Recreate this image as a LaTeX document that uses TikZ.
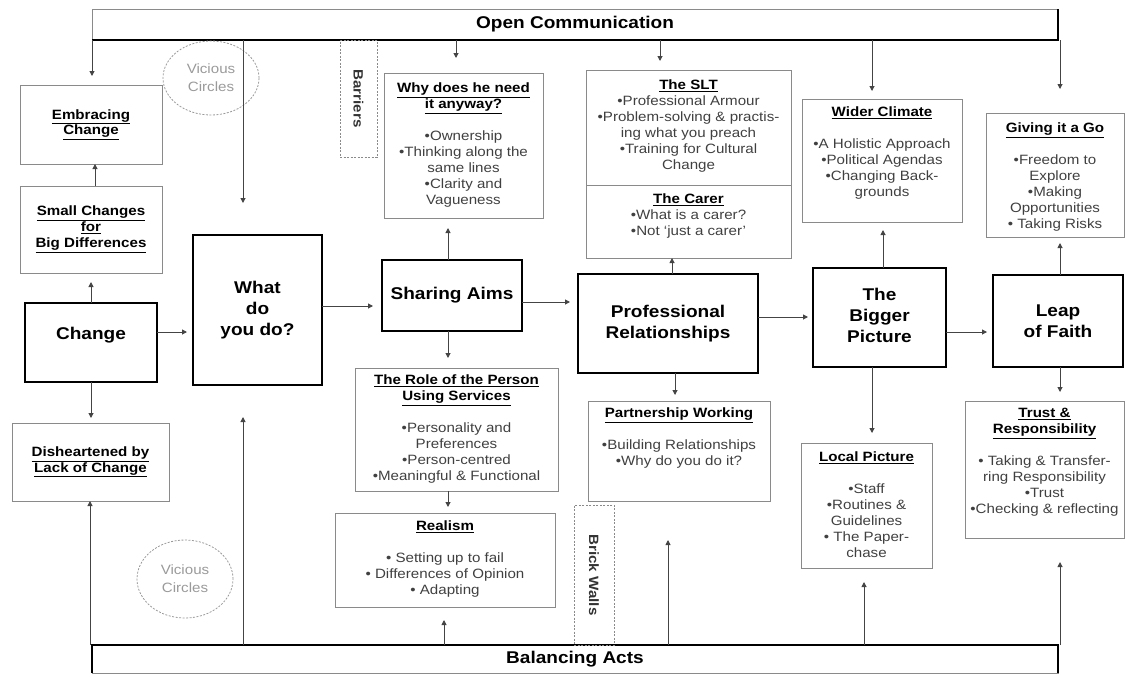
\documentclass[tikz,border=0pt]{standalone}
\usepackage{fontspec}
\setmainfont{Liberation Sans}[FakeStretch=1.12]
\usetikzlibrary{arrows.meta,calc,shapes.geometric}
\definecolor{linegray}{HTML}{444444}
\definecolor{boxgray}{HTML}{8A8A8A}
\definecolor{txtgray}{HTML}{404040}
\definecolor{vcgray}{HTML}{9A9A9A}
\newcommand\hdr[1]{{\color{black}\bfseries\underline{#1}}}
% box from top-left (x1,y1) to bottom-right (x2,y2)
\newcommand\bx[7]{\node[#1, minimum width={#5-#3}, minimum height={#6-#4}, anchor=north west] (#2) at (#3,#4) {#7};}
\tikzset{
  mainbox/.style={draw=black, line width=2pt, inner sep=0pt, outer sep=0pt,
    font=\fontsize{17}{21}\selectfont\bfseries, align=center},
  subbox/.style={draw=boxgray, line width=1pt, inner sep=0pt, outer sep=0pt},
  ctxt/.style={font=\fontsize{13.5}{15.5}\selectfont, align=center},
  barbox/.style={draw=boxgray, line width=0.8pt, inner sep=0pt, outer sep=0pt,
    font=\fontsize{17}{21}\selectfont\bfseries, align=center},
  dashbox/.style={draw=boxgray, line width=0.8pt, dash pattern=on 2pt off 1.5pt, inner sep=0pt, outer sep=0pt},
  subtxt/.style={font=\fontsize{13.5}{16}\selectfont, text=txtgray, align=center, inner sep=0pt, anchor=north},
  rottxt/.style={font=\fontsize{13.5}{16}\selectfont\bfseries, text=black!80, rotate=-90, inner sep=0pt},
  vcirc/.style={ellipse, draw=vcgray, line width=0.8pt, dash pattern=on 2pt off 1.5pt,
    text=vcgray, font=\fontsize{13.5}{18}\selectfont, align=center, inner sep=0pt},
  arr/.style={draw=linegray, line width=1pt, -{Triangle[length=5pt,width=5pt]}},
}
\begin{document}
\begin{tikzpicture}[x=1pt,y=-1pt]
\useasboundingbox (0,0) rectangle (1126,675);

% ---------- bars ----------
\bx{barbox}{oc}{92}{9}{1058}{40}{Open Communication}
\draw[line width=2.5pt, black] (oc.south west) -- (oc.south east) -- (oc.north east);
\bx{barbox}{ba}{92}{645}{1058}{673}{Balancing Acts}
\draw[line width=2.5pt, black] (ba.south west) -- (ba.north west) -- (ba.north east) -- (ba.south east);

% ---------- left column ----------
\bx{subbox,ctxt}{emb}{20}{85}{162}{164}{\hdr{Embracing}\\\hdr{Change}}
\bx{subbox,ctxt,font=\fontsize{13.5}{16}\selectfont}{small}{20}{186}{162}{273}{\hdr{Small Changes}\\\hdr{for}\\\hdr{Big Differences}}
\bx{mainbox}{change}{25}{303}{157}{382}{\raisebox{19pt}{Change}}
\bx{subbox,ctxt}{dish}{12}{423}{169}{501}{\hdr{Disheartened by}\\\hdr{Lack of Change}}

\node[vcirc, minimum width=96, minimum height=74] (vc1) at (211,78) {Vicious\\Circles};
\node[vcirc, minimum width=96, minimum height=78] (vc2) at (185,579) {Vicious\\Circles};

\bx{dashbox}{barr}{340}{40}{377}{157}{}
\node[rottxt] (barrT) at (barr.center) {Barriers};

\bx{mainbox}{what}{193}{235}{322}{385}{What\\do\\you do?}

% ---------- sharing aims column ----------
\bx{mainbox}{share}{382}{260}{522}{331}{\raisebox{-5pt}{Sharing Aims}}
\bx{subbox}{why}{384}{73}{543}{218}{}
\node[subtxt] (whyT) at ($(why.north)+(0,10)$) {\hdr{Why does he need}\\\hdr{it anyway?}\\[16pt]•Ownership\\•Thinking along the\\same lines\\•Clarity and\\Vagueness};
\bx{subbox}{role}{355}{368}{558}{491}{}
\node[subtxt] (roleT) at ($(role.north)+(0,7)$) {\hdr{The Role of the Person}\\\hdr{Using Services}\\[16pt]•Personality and\\Preferences\\•Person-centred\\•Meaningful \& Functional};
\bx{subbox}{real}{335}{513}{555}{607}{}
\node[subtxt] (realT) at ($(real.north)+(0,8)$) {\hdr{Realism}\\[16pt]• Setting up to fail\\• Differences of Opinion\\• Adapting};

% ---------- professional relationships column ----------
\bx{mainbox}{prof}{578}{274}{758}{373}{Professional\\Relationships}
\bx{subbox}{slt}{586}{70}{791}{258}{}
\coordinate (sltdiv) at (0,185);
\draw[draw=boxgray, line width=1pt] (slt.west |- sltdiv) -- (slt.east |- sltdiv);
\node[subtxt] (sltT) at ($(slt.north)+(0,10)$) {\hdr{The SLT}\\•Professional Armour\\•Problem-solving \& practis-\\ing what you preach\\•Training for Cultural\\Change};
\node[subtxt] (carerT) at ($(slt.north |- sltdiv)+(0,9)$) {\hdr{The Carer}\\•What is a carer?\\•Not `just a carer'};
\bx{subbox}{part}{588}{401}{770}{501}{}
\node[subtxt] (partT) at ($(part.north)+(0,7)$) {\hdr{Partnership Working}\\[16pt]•Building Relationships\\•Why do you do it?};
\bx{dashbox}{brick}{574}{505}{614}{645}{}
\node[rottxt] (brickT) at (brick.center) {Brick Walls};

% ---------- bigger picture column ----------
\bx{mainbox}{big}{813}{268}{946}{367}{\raisebox{-8pt}{\begin{tabular}{@{}c@{}}The\\Bigger\\Picture\end{tabular}}}
\bx{subbox}{wider}{802}{99}{962}{222}{}
\node[subtxt] (widerT) at ($(wider.north)+(0,8)$) {\hdr{Wider Climate}\\[16pt]•A Holistic Approach\\•Political Agendas\\•Changing Back-\\grounds};
\bx{subbox}{local}{801}{443}{932}{568}{}
\node[subtxt] (localT) at ($(local.north)+(0,9)$) {\hdr{Local Picture}\\[16pt]•Staff\\•Routines \&\\Guidelines\\• The Paper-\\chase};

% ---------- leap of faith column ----------
\bx{mainbox}{leap}{993}{275}{1123}{367}{Leap\\of Faith}
\bx{subbox}{give}{986}{113}{1124}{237}{}
\node[subtxt] (giveT) at ($(give.north)+(0,10)$) {\hdr{Giving it a Go}\\[16pt]•Freedom to\\Explore\\•Making\\Opportunities\\• Taking Risks};
\bx{subbox}{trust}{965}{401}{1124}{538}{}
\node[subtxt] (trustT) at ($(trust.north)+(0,7)$) {\hdr{Trust \&}\\\hdr{Responsibility}\\[16pt]• Taking \& Transfer-\\ring Responsibility\\•Trust\\•Checking \& reflecting};

% ---------- connector guide coordinates ----------
\coordinate (xEmb) at (92,0);
\coordinate (xSm) at (95,0);
\coordinate (xCh) at (91,0);
\coordinate (xDi) at (90,0);
\coordinate (xVC) at (243,0);
\coordinate (xWhy) at (456,0);
\coordinate (xSA) at (448,0);
\coordinate (xReal) at (444,0);
\coordinate (xSLT) at (660,0);
\coordinate (xPRu) at (672,0);
\coordinate (xPRd) at (675,0);
\coordinate (xBW) at (668,0);
\coordinate (xWC) at (872,0);
\coordinate (xBPu) at (883,0);
\coordinate (xBPd) at (872,0);
\coordinate (xLP) at (864,0);
\coordinate (xLF) at (1060,0);
\coordinate (yCW) at (0,332);
\coordinate (yWS) at (0,306);
\coordinate (ySP) at (0,302);
\coordinate (yPB) at (0,317);
\coordinate (yBL) at (0,332);
\coordinate (vcEnd) at (243,203);
\coordinate (wdEnd) at (243,417);
\coordinate (bwEnd) at (668,540);

% ---------- connectors from Open Communication ----------
\draw[arr, shorten >=9pt] (oc.south -| xEmb) -- (emb.north -| xEmb);
\draw[arr] (oc.south -| xVC) -- (vcEnd);
\draw[arr, shorten >=15pt] (oc.south -| xWhy) -- (why.north -| xWhy);
\draw[arr, shorten >=9pt] (oc.south -| xSLT) -- (slt.north -| xSLT);
\draw[arr, shorten >=8pt] (oc.south -| xWC) -- (wider.north -| xWC);
\draw[arr, shorten >=24pt] (oc.south -| xLF) -- (give.north -| xLF);

% ---------- left column connectors ----------
\draw[arr] (small.north -| xSm) -- (emb.south -| xSm);
\draw[arr, shorten >=9pt] (change.north -| xCh) -- (small.south -| xCh);
\draw[arr, shorten >=6pt] (change.east |- yCW) -- (what.west |- yCW);
\draw[arr, shorten >=5pt] (change.south -| xCh) -- (dish.north -| xCh);
\draw[arr] (ba.north -| xDi) -- (dish.south -| xDi);
\draw[arr] (ba.north -| xVC) -- (wdEnd);

% ---------- middle connectors ----------
\draw[arr, shorten >=9pt] (what.east |- yWS) -- (share.west |- yWS);
\draw[arr, shorten >=10pt] (share.north -| xSA) -- (why.south -| xSA);
\draw[arr, shorten >=10pt] (share.south -| xSA) -- (role.north -| xSA);
\draw[arr, shorten >=6pt] (role.south -| xSA) -- (real.north -| xSA);
\draw[arr, shorten >=13pt] (ba.north -| xReal) -- (real.south -| xReal);
\draw[arr, shorten >=8pt] (share.east |- ySP) -- (prof.west |- ySP);
\draw[arr] (prof.north -| xPRu) -- (slt.south -| xPRu);
\draw[arr, shorten >=6pt] (prof.south -| xPRd) -- (part.north -| xPRd);
\draw[arr] (ba.north -| xBW) -- (bwEnd);

% ---------- right connectors ----------
\draw[arr, shorten >=5pt] (prof.east |- yPB) -- (big.west |- yPB);
\draw[arr, shorten >=8pt] (big.north -| xBPu) -- (wider.south -| xBPu);
\draw[arr, shorten >=10pt] (big.south -| xBPd) -- (local.north -| xBPd);
\draw[arr, shorten >=14pt] (ba.north -| xLP) -- (local.south -| xLP);
\draw[arr, shorten >=6pt] (big.east |- yBL) -- (leap.west |- yBL);
\draw[arr, shorten >=6pt] (leap.north -| xLF) -- (give.south -| xLF);
\draw[arr, shorten >=9pt] (leap.south -| xLF) -- (trust.north -| xLF);
\draw[arr, shorten >=24pt] (ba.north -| xLF) -- (trust.south -| xLF);
\end{tikzpicture}
\end{document}
